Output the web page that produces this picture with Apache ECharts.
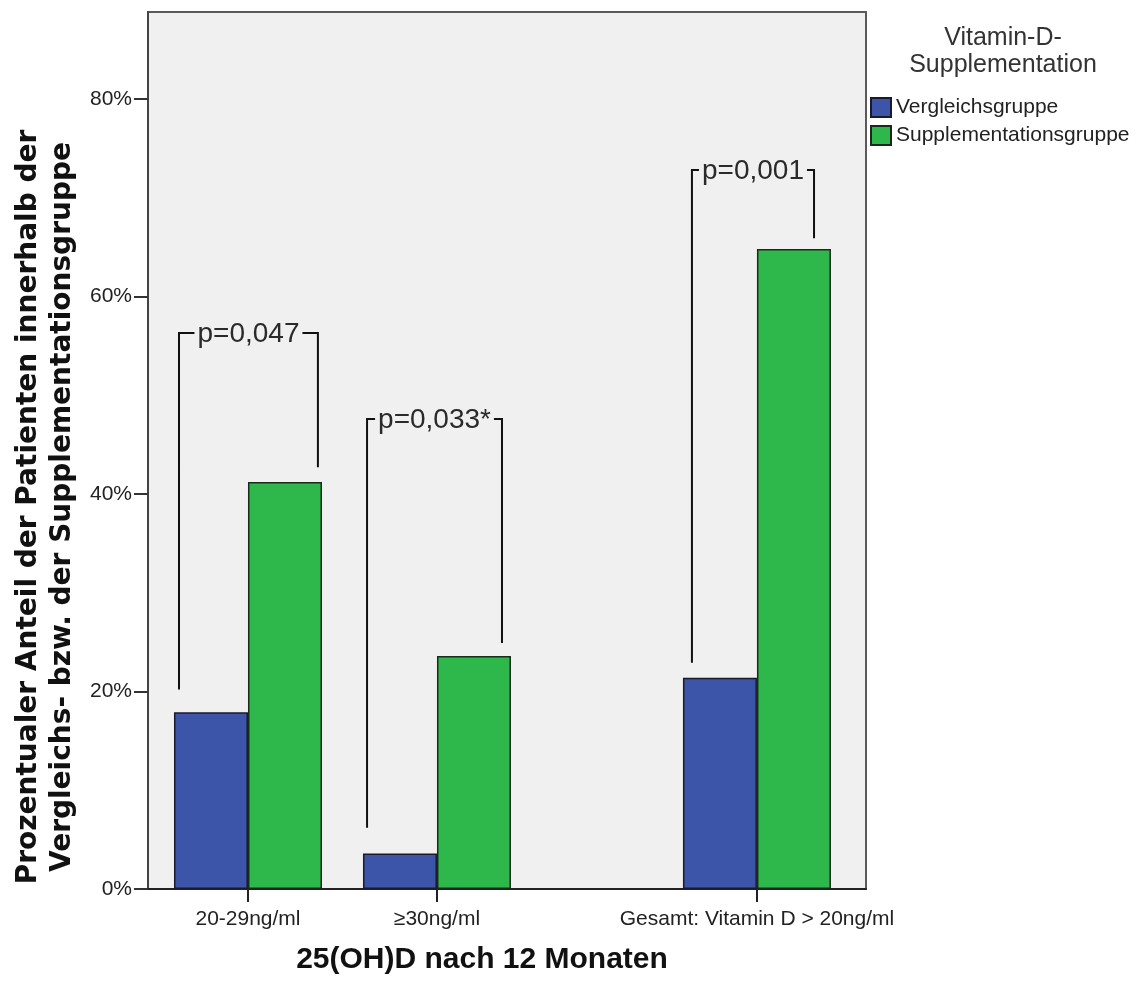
<!DOCTYPE html>
<html>
<head>
<meta charset="utf-8">
<style>
  html, body { margin: 0; padding: 0; background: #fff; }
  #chart { width: 1143px; height: 990px; }
</style>
<script src="https://cdn.jsdelivr.net/npm/echarts@6/dist/echarts.min.js"></script>
</head>
<body>
<div id="chart"></div>
<script>
(function (window, document) {
    'use strict';
    var chart = echarts.init(document.getElementById('chart'));

    // data
    var categories = ['20-29ng/ml', '\u226530ng/ml', 'Gesamt: Vitamin D > 20ng/ml'];
    var categoryPositions = [1, 2, 3.693];
    var vergleichsgruppe = [17.9, 3.6, 21.4];
    var supplementationsgruppe = [41.2, 23.6, 64.8];
    var yTicks = [0, 20, 40, 60, 80];

    // significance brackets
    var pLabels = ['p=0,047', 'p=0,033*', 'p=0,001'];
    var bracketFrom = [0.635, 1.630, 3.349];
    var bracketTo = [1.370, 2.344, 3.995];
    var bracketLeftEnd = [20.2, 6.2, 22.9];
    var bracketRightEnd = [42.7, 24.9, 65.9];
    var bracketTop = [56.3, 47.6, 72.8];

    var plotBg = '#f0f0f0';
    var textFont = '"Liberation Sans", Arial, sans-serif';

    function renderBracket(params, api) {
        var i = params.dataIndex;
        var a = api.coord([api.value(0), api.value(2)]);
        var b = api.coord([api.value(0), api.value(4)]);
        var c = api.coord([api.value(1), api.value(4)]);
        var d = api.coord([api.value(1), api.value(3)]);
        return {
            type: 'group',
            children: [{
                type: 'polyline',
                shape: { points: [a, b, c, d] },
                style: { stroke: '#111', lineWidth: 2, fill: null }
            }, {
                type: 'text',
                x: (b[0] + c[0]) / 2,
                y: b[1] + 1,
                style: {
                    text: pLabels[i],
                    fontFamily: textFont,
                    fontSize: 28,
                    fill: '#2a2a2a',
                    align: 'center',
                    verticalAlign: 'middle',
                    backgroundColor: plotBg,
                    padding: [0, 3]
                }
            }]
        };
    }

    var option = {
        animation: false,
        backgroundColor: '#fff',
        grid: {
            left: 148, top: 12, width: 718, height: 877,
            show: true,
            backgroundColor: plotBg,
            borderColor: '#5a5a5a',
            borderWidth: 2
        },
        legend: {
            data: ['Vergleichsgruppe', 'Supplementationsgruppe'],
            orient: 'vertical',
            left: 870,
            top: 97,
            padding: 0,
            itemWidth: 20,
            itemHeight: 19,
            itemGap: 7,
            icon: 'rect',
            textStyle: { fontFamily: textFont, fontSize: 21, color: '#222' }
        },
        xAxis: {
            type: 'value',
            min: 0.471,
            max: 4.270,
            splitLine: { show: false },
            axisLine: { show: true, lineStyle: { color: '#222', width: 2 } },
            axisTick: {
                show: true, length: 13,
                customValues: categoryPositions,
                lineStyle: { color: '#222', width: 2 }
            },
            axisLabel: {
                customValues: categoryPositions,
                margin: 20,
                fontFamily: textFont,
                fontSize: 21,
                color: '#222',
                formatter: function (v) {
                    var k = categoryPositions.indexOf(v);
                    return k >= 0 ? categories[k] : '';
                }
            }
        },
        yAxis: {
            type: 'value',
            min: 0,
            max: 88.8,
            interval: 20,
            splitLine: { show: false },
            axisLine: { show: true, lineStyle: { color: '#444', width: 2 } },
            axisTick: {
                show: true, length: 14,
                customValues: yTicks,
                lineStyle: { color: '#333', width: 2 }
            },
            axisLabel: {
                customValues: yTicks,
                margin: 16,
                fontFamily: textFont,
                fontSize: 21,
                color: '#222',
                formatter: '{value}%'
            }
        },
        graphic: [{
            type: 'text',
            x: 1003, y: 52,
            style: {
                text: 'Vitamin-D-\nSupplementation',
                fontFamily: textFont,
                fontSize: 25,
                lineHeight: 27,
                fill: '#333',
                align: 'center',
                verticalAlign: 'middle'
            }
        }, {
            type: 'text',
            x: 46, y: 507,
            rotation: Math.PI / 2,
            style: {
                text: 'Prozentualer Anteil der Patienten innerhalb der\nVergleichs- bzw. der Supplementationsgruppe',
                fontFamily: '"DejaVu Sans", sans-serif',
                fontWeight: 'bold',
                fontSize: 28,
                lineHeight: 34,
                fill: '#111',
                align: 'center',
                verticalAlign: 'middle'
            }
        }, {
            type: 'text',
            x: 482, y: 960,
            style: {
                text: '25(OH)D nach 12 Monaten',
                fontFamily: textFont,
                fontWeight: 'bold',
                fontSize: 30,
                fill: '#111',
                align: 'center',
                verticalAlign: 'middle'
            }
        }],
        series: [{
            name: 'Vergleichsgruppe',
            type: 'bar',
            barWidth: 74,
            barGap: '0%',
            itemStyle: { color: '#3c55a9', borderColor: '#1a1a2a', borderWidth: 1.5 },
            data: categoryPositions.map(function (x, i) { return [x, vergleichsgruppe[i]]; })
        }, {
            name: 'Supplementationsgruppe',
            type: 'bar',
            barWidth: 74,
            barGap: '0%',
            itemStyle: { color: '#2eb84b', borderColor: '#1a2a1a', borderWidth: 1.5 },
            data: categoryPositions.map(function (x, i) { return [x, supplementationsgruppe[i]]; })
        }, {
            type: 'custom',
            renderItem: renderBracket,
            clip: false,
            silent: true,
            encode: { x: [0, 1], y: [2, 3, 4] },
            data: pLabels.map(function (p, i) {
                return [bracketFrom[i], bracketTo[i], bracketLeftEnd[i], bracketRightEnd[i], bracketTop[i]];
            }),
            z: 5
        }]
    };

    chart.setOption(option);
})(window, document);
</script>
</body>
</html>
